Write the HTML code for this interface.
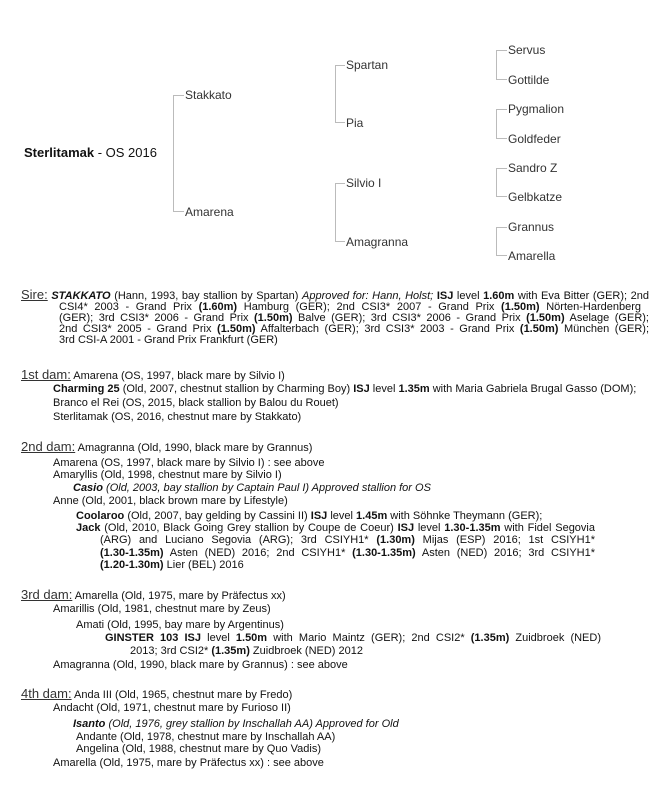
<!DOCTYPE html>
<html><head><meta charset="utf-8"><style>
body{margin:0;background:#fff;width:670px;height:789px;position:relative;overflow:hidden;font-family:"Liberation Sans",Arial,sans-serif;color:#111}
.t{position:absolute;font-size:12px;line-height:14px;color:#333;white-space:nowrap}
.l{position:absolute;font-size:11px;line-height:12px;white-space:nowrap}
.j{position:absolute;font-size:11px;line-height:12px;text-align:justify;text-align-last:justify;white-space:normal}
.h{font-size:13px;color:#333;text-decoration:underline}
</style></head><body>
<svg width="670" height="789" style="position:absolute;left:0;top:0" stroke="#bbb" stroke-width="1" fill="none">
<path d="M173.5 95V212M173.5 95.5H184M173.5 211.5H184"/>
<path d="M335.5 65V123M335.5 65.5H345M335.5 122.5H345"/>
<path d="M335.5 183V242M335.5 183.5H345M335.5 241.5H345"/>
<path d="M496.5 50V80M496.5 50.5H507M496.5 79.5H507"/>
<path d="M496.5 109V139M496.5 109.5H507M496.5 138.5H507"/>
<path d="M496.5 168V197M496.5 168.5H507M496.5 196.5H507"/>
<path d="M496.5 227V256M496.5 227.5H507M496.5 255.5H507"/>
</svg>
<div class="t" style="left:24px;top:146px;color:#111;font-size:13px"><b>Sterlitamak</b> - OS 2016</div>
<div class="t" style="left:185px;top:88px">Stakkato</div>
<div class="t" style="left:185px;top:205px">Amarena</div>
<div class="t" style="left:346px;top:58px">Spartan</div>
<div class="t" style="left:346px;top:116px">Pia</div>
<div class="t" style="left:346px;top:176px">Silvio I</div>
<div class="t" style="left:346px;top:235px">Amagranna</div>
<div class="t" style="left:508px;top:43px">Servus</div>
<div class="t" style="left:508px;top:73px">Gottilde</div>
<div class="t" style="left:508px;top:102px">Pygmalion</div>
<div class="t" style="left:508px;top:132px">Goldfeder</div>
<div class="t" style="left:508px;top:161px">Sandro Z</div>
<div class="t" style="left:508px;top:190px">Gelbkatze</div>
<div class="t" style="left:508px;top:220px">Grannus</div>
<div class="t" style="left:508px;top:249px">Amarella</div>

<div class="j" style="left:21px;top:289px;width:628px"><span class="h">Sire:</span> <b><i>STAKKATO</i></b> (Hann, 1993, bay stallion by Spartan) <i>Approved for: Hann, Holst;</i> <b>ISJ</b> level <b>1.60m</b> with Eva Bitter (GER); 2nd</div>
<div class="j" style="left:59px;top:301px;width:582px">CSI4* 2003 - Grand Prix <b>(1.60m)</b> Hamburg (GER); 2nd CSI3* 2007 - Grand Prix <b>(1.50m)</b> Nörten-Hardenberg</div>
<div class="j" style="left:59px;top:312px;width:590px">(GER); 3rd CSI3* 2006 - Grand Prix <b>(1.50m)</b> Balve (GER); 3rd CSI3* 2006 - Grand Prix <b>(1.50m)</b> Aselage (GER);</div>
<div class="j" style="left:59px;top:323px;width:590px">2nd CSI3* 2005 - Grand Prix <b>(1.50m)</b> Affalterbach (GER); 3rd CSI3* 2003 - Grand Prix <b>(1.50m)</b> München (GER);</div>
<div class="l" style="left:59px;top:334px">3rd CSI-A 2001 - Grand Prix Frankfurt (GER)</div>

<div class="l" style="left:21px;top:369px"><span class="h">1st dam:</span> Amarena (OS, 1997, black mare by Silvio I)</div>
<div class="l" style="left:53px;top:383px"><b>Charming 25</b> (Old, 2007, chestnut stallion by Charming Boy) <b>ISJ</b> level <b>1.35m</b> with Maria Gabriela Brugal Gasso (DOM);</div>
<div class="l" style="left:53px;top:397px">Branco el Rei (OS, 2015, black stallion by Balou du Rouet)</div>
<div class="l" style="left:53px;top:411px">Sterlitamak (OS, 2016, chestnut mare by Stakkato)</div>

<div class="l" style="left:21px;top:441px"><span class="h">2nd dam:</span> Amagranna (Old, 1990, black mare by Grannus)</div>
<div class="l" style="left:53px;top:457px">Amarena (OS, 1997, black mare by Silvio I) : see above</div>
<div class="l" style="left:53px;top:469px">Amaryllis (Old, 1998, chestnut mare by Silvio I)</div>
<div class="l" style="left:73px;top:482px"><b><i>Casio</i></b> <i>(Old, 2003, bay stallion by Captain Paul I) Approved stallion for OS</i></div>
<div class="l" style="left:53px;top:495px">Anne (Old, 2001, black brown mare by Lifestyle)</div>
<div class="l" style="left:76px;top:510px"><b>Coolaroo</b> (Old, 2007, bay gelding by Cassini II) <b>ISJ</b> level <b>1.45m</b> with Söhnke Theymann (GER);</div>
<div class="j" style="left:76px;top:522px;width:519px"><b>Jack</b> (Old, 2010, Black Going Grey stallion by Coupe de Coeur) <b>ISJ</b> level <b>1.30-1.35m</b> with Fidel Segovia</div>
<div class="j" style="left:100px;top:534px;width:495px">(ARG) and Luciano Segovia (ARG); 3rd CSIYH1* <b>(1.30m)</b> Mijas (ESP) 2016; 1st CSIYH1*</div>
<div class="j" style="left:100px;top:547px;width:495px"><b>(1.30-1.35m)</b> Asten (NED) 2016; 2nd CSIYH1* <b>(1.30-1.35m)</b> Asten (NED) 2016; 3rd CSIYH1*</div>
<div class="l" style="left:100px;top:559px"><b>(1.20-1.30m)</b> Lier (BEL) 2016</div>

<div class="l" style="left:21px;top:589px"><span class="h">3rd dam:</span> Amarella (Old, 1975, mare by Präfectus xx)</div>
<div class="l" style="left:53px;top:603px">Amarillis (Old, 1981, chestnut mare by Zeus)</div>
<div class="l" style="left:76px;top:619px">Amati (Old, 1995, bay mare by Argentinus)</div>
<div class="j" style="left:105px;top:632px;width:496px"><b>GINSTER 103 ISJ</b> level <b>1.50m</b> with Mario Maintz (GER); 2nd CSI2* <b>(1.35m)</b> Zuidbroek (NED)</div>
<div class="l" style="left:130px;top:645px">2013; 3rd CSI2* <b>(1.35m)</b> Zuidbroek (NED) 2012</div>
<div class="l" style="left:53px;top:659px">Amagranna (Old, 1990, black mare by Grannus) : see above</div>

<div class="l" style="left:21px;top:688px"><span class="h">4th dam:</span> Anda III (Old, 1965, chestnut mare by Fredo)</div>
<div class="l" style="left:53px;top:702px">Andacht (Old, 1971, chestnut mare by Furioso II)</div>
<div class="l" style="left:73px;top:718px"><b><i>Isanto</i></b> <i>(Old, 1976, grey stallion by Inschallah AA) Approved for Old</i></div>
<div class="l" style="left:76px;top:731px">Andante (Old, 1978, chestnut mare by Inschallah AA)</div>
<div class="l" style="left:76px;top:743px">Angelina (Old, 1988, chestnut mare by Quo Vadis)</div>
<div class="l" style="left:53px;top:757px">Amarella (Old, 1975, mare by Präfectus xx) : see above</div>
</body></html>
